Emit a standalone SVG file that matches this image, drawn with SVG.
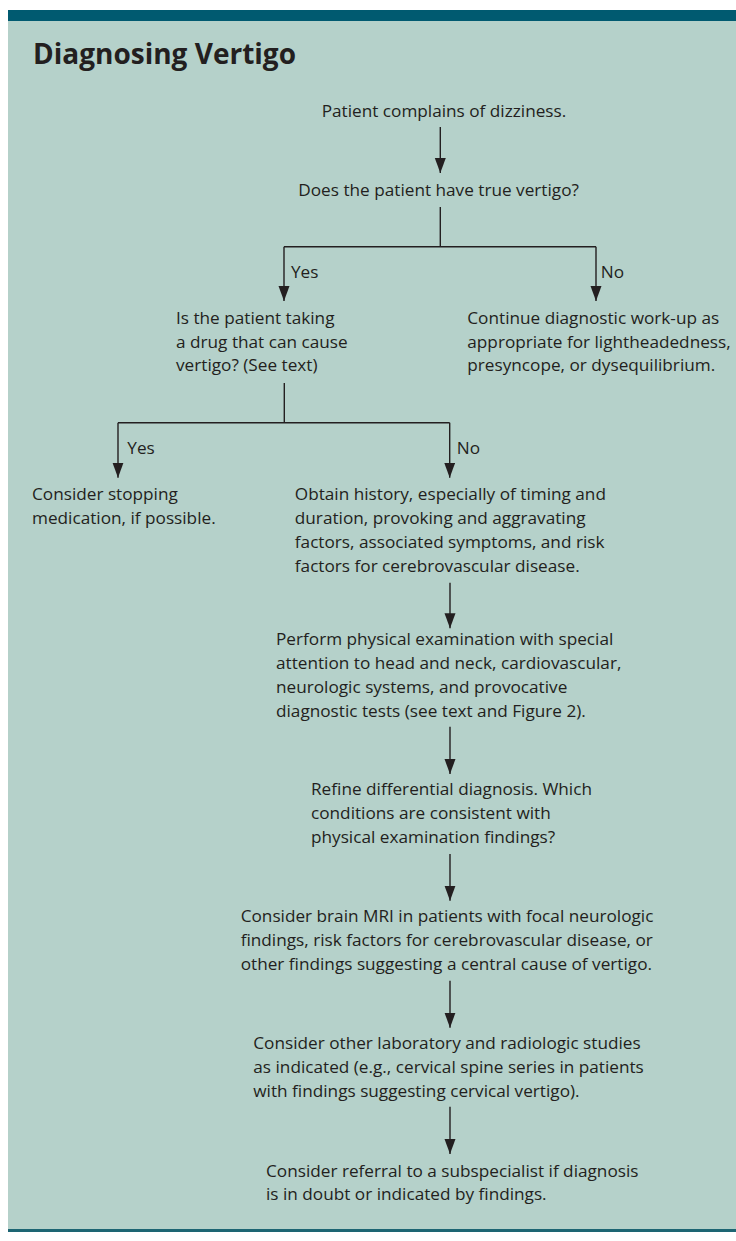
<svg xmlns="http://www.w3.org/2000/svg" width="736" height="1241" viewBox="0 0 736 1241">
<style>
.t{font-family:"Open Sans","Liberation Sans",sans-serif;font-size:17.2px;fill:#231f20}
.title{font-family:"Open Sans","Liberation Sans",sans-serif;font-size:28px;font-weight:bold;fill:#231f20}
.ln{stroke:#231f20;stroke-width:1.4;fill:none}
.ar{stroke:#231f20;stroke-width:1.4;fill:none;marker-end:url(#ah)}
</style>
<defs>
<marker id="ah" markerUnits="userSpaceOnUse" markerWidth="16" markerHeight="12" viewBox="0 0 16 12" refX="15" refY="5.5" orient="auto">
<path d="M0,0 L15,5.5 L0,11 z" fill="#231f20"/>
</marker>
</defs>
<rect x="0" y="0" width="736" height="1241" fill="#ffffff"/>
<rect x="8" y="10" width="728" height="1220" fill="#b5d1ca"/>
<rect x="8" y="10" width="728" height="11" fill="#005a70"/>
<rect x="8" y="1229" width="728" height="3" fill="#1d6573"/>
<g id="title"><text class="title" x="33" y="64">Diagnosing Vertigo</text></g>

<g id="connectors">
<line class="ar" x1="440.3" y1="127" x2="440.3" y2="173"/>
<polyline class="ln" points="440.3,207 440.3,246.7"/>
<polyline class="ar" points="284,246.7 284,301"/>
<polyline class="ln" points="284,246.7 596,246.7"/>
<polyline class="ar" points="596,246.7 596,301"/>
<text class="t" x="291" y="278">Yes</text>
<text class="t" x="600.7" y="278">No</text>
<polyline class="ln" points="284.3,383 284.3,422.7"/>
<polyline class="ln" points="118,422.7 449.7,422.7"/>
<polyline class="ar" points="118,422.7 118,477.7"/>
<polyline class="ar" points="449.7,422.7 449.7,477.7"/>
<text class="t" x="127.3" y="454">Yes</text>
<text class="t" x="456.7" y="454">No</text>
<line class="ar" x1="450" y1="582.7" x2="450" y2="628.3"/>
<line class="ar" x1="450" y1="726.7" x2="450" y2="774"/>
<line class="ar" x1="450" y1="854" x2="450" y2="900.7"/>
<line class="ar" x1="450" y1="980.7" x2="450" y2="1027.7"/>
<line class="ar" x1="450" y1="1106.7" x2="450" y2="1154"/>
</g>

<g id="n1"><text class="t" x="321.7" y="117">Patient complains of dizziness.</text></g>
<g id="n2"><text class="t" x="298.3" y="196">Does the patient have true vertigo?</text></g>
<g id="n3">
<text class="t" x="176" y="324">Is the patient taking</text>
<text class="t" x="176" y="347.5">a drug that can cause</text>
<text class="t" x="176" y="371">vertigo? (See text)</text>
</g>
<g id="n4">
<text class="t" x="467.3" y="324">Continue diagnostic work-up as</text>
<text class="t" x="467.3" y="347.5">appropriate for lightheadedness,</text>
<text class="t" x="467.3" y="371">presyncope, or dysequilibrium.</text>
</g>
<g id="n5">
<text class="t" x="32" y="500">Consider stopping</text>
<text class="t" x="32" y="523.5">medication, if possible.</text>
</g>
<g id="n6">
<text class="t" x="294.8" y="500">Obtain history, especially of timing and</text>
<text class="t" x="294.8" y="523.5">duration, provoking and aggravating</text>
<text class="t" x="294.8" y="547.5">factors, associated symptoms, and risk</text>
<text class="t" x="294.8" y="571.5">factors for cerebrovascular disease.</text>
</g>
<g id="n7">
<text class="t" x="276" y="645">Perform physical examination with special</text>
<text class="t" x="276" y="669">attention to head and neck, cardiovascular,</text>
<text class="t" x="276" y="693">neurologic systems, and provocative</text>
<text class="t" x="276" y="717">diagnostic tests (see text and Figure 2).</text>
</g>
<g id="n8">
<text class="t" x="311" y="795">Refine differential diagnosis. Which</text>
<text class="t" x="311" y="819">conditions are consistent with</text>
<text class="t" x="311" y="843">physical examination findings?</text>
</g>
<g id="n9">
<text class="t" x="240.7" y="921.7">Consider brain MRI in patients with focal neurologic</text>
<text class="t" x="240.7" y="945.7">findings, risk factors for cerebrovascular disease, or</text>
<text class="t" x="240.7" y="969.5">other findings suggesting a central cause of vertigo.</text>
</g>
<g id="n10">
<text class="t" x="253.3" y="1049.3">Consider other laboratory and radiologic studies</text>
<text class="t" x="253.3" y="1073">as indicated (e.g., cervical spine series in patients</text>
<text class="t" x="253.3" y="1097">with findings suggesting cervical vertigo).</text>
</g>
<g id="n11">
<text class="t" x="266" y="1176.7">Consider referral to a subspecialist if diagnosis</text>
<text class="t" x="266" y="1200">is in doubt or indicated by findings.</text>
</g>
</svg>
